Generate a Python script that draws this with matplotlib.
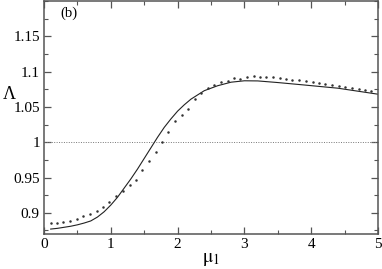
import matplotlib
matplotlib.use("Agg")
import matplotlib.pyplot as plt
from matplotlib.ticker import MultipleLocator

plt.rcParams['font.family'] = ['Liberation Serif', 'DejaVu Serif']
plt.rcParams['mathtext.fontset'] = 'stix'

# solid curve
line_x = [0.1, 0.2, 0.3, 0.4, 0.5, 0.6, 0.7, 0.8, 0.9, 1.0, 1.1, 1.2, 1.3, 1.4,
          1.5, 1.6, 1.7, 1.8, 1.9, 2.0, 2.1, 2.2, 2.4, 2.6, 2.8, 3.0, 3.2, 3.5,
          3.9, 4.4, 5.0]
line_y = [0.877, 0.878, 0.8795, 0.881, 0.883, 0.8855, 0.8885, 0.894, 0.9015,
          0.911, 0.922, 0.935, 0.948, 0.962, 0.977, 0.992, 1.007, 1.021, 1.033,
          1.044, 1.053, 1.061, 1.073, 1.080, 1.085, 1.087, 1.0868, 1.0845,
          1.081, 1.0765, 1.068]

# dotted data points
dot_x = [0.10, 0.20, 0.29, 0.39, 0.49, 0.59, 0.69, 0.79, 0.88, 0.98, 1.08, 1.18,
         1.28, 1.37, 1.47, 1.57, 1.67, 1.76, 1.86, 1.96, 2.06, 2.16, 2.26, 2.35,
         2.45, 2.55, 2.65, 2.75, 2.84, 2.94, 3.04, 3.14, 3.23, 3.33, 3.43, 3.53,
         3.62, 3.72, 3.82, 3.92, 4.02, 4.12, 4.21, 4.31, 4.41, 4.51, 4.61, 4.71,
         4.80, 4.90]
dot_y = [0.8857, 0.8857, 0.8867, 0.888, 0.8914, 0.8952, 0.899, 0.9027, 0.9088,
         0.916, 0.9235, 0.931, 0.939, 0.947, 0.960, 0.9735, 0.986, 1.000, 1.0148,
         1.0297, 1.039, 1.0475, 1.0618, 1.0698, 1.0769, 1.0807, 1.0853, 1.0863,
         1.0906, 1.090, 1.092, 1.0934, 1.0924, 1.092, 1.092, 1.0906, 1.090,
         1.0882, 1.0878, 1.0864, 1.085, 1.0844, 1.0821, 1.0812, 1.0793, 1.0788,
         1.0769, 1.075, 1.0741, 1.0731]

x_ticks = [0, 1, 2, 3, 4, 5]
y_ticks = [0.9, 0.95, 1.0, 1.05, 1.1, 1.15]
y_labels = ['0.9', '0.95', '1', '1.05', '1.1', '1.15']

fig = plt.figure(figsize=(3.82, 2.69), dpi=100)
ax = fig.add_axes([0.1152, 0.1301, 0.8743, 0.8662])

ax.axhline(1.0, color='#777777', lw=0.7, ls=(0, (1, 1.5)))
ax.plot(line_x, line_y, color='#222222', lw=0.8)
ax.plot(dot_x, dot_y, ls='none', marker='o', ms=1.8, color='#333333', mec='none')

ax.set_xlim(0, 5)
ax.set_ylim(0.87, 1.2)
ax.set_xticks(x_ticks)
ax.set_xticklabels([str(t) for t in x_ticks])
ax.set_yticks(y_ticks)
ax.set_yticklabels(y_labels)
ax.xaxis.set_minor_locator(MultipleLocator(0.5))
ax.yaxis.set_minor_locator(MultipleLocator(0.025))

ax.tick_params(which='both', direction='in', top=True, right=True,
               labelsize=11, color='#555555', pad=3)
ax.tick_params(which='major', length=5, width=0.9)
ax.tick_params(which='minor', length=3, width=0.8)
for s in ax.spines.values():
    s.set_color('#555555')
    s.set_linewidth(1.1)

ax.set_xlabel(r'$\mathrm{\mu}_1$', fontsize=14)
ax.xaxis.set_label_coords(0.5, -0.075, transform=ax.transAxes)
ax.xaxis.label.set_va('top')
ax.set_ylabel('Λ', fontsize=13, rotation=0, va='center', ha='center')
ax.yaxis.set_label_coords(-0.105, 0.6)
ax.text(0.05, 0.975, '(b)', transform=ax.transAxes, fontsize=10.5,
        va='top', ha='left')

fig.savefig('out.png', dpi=100)
